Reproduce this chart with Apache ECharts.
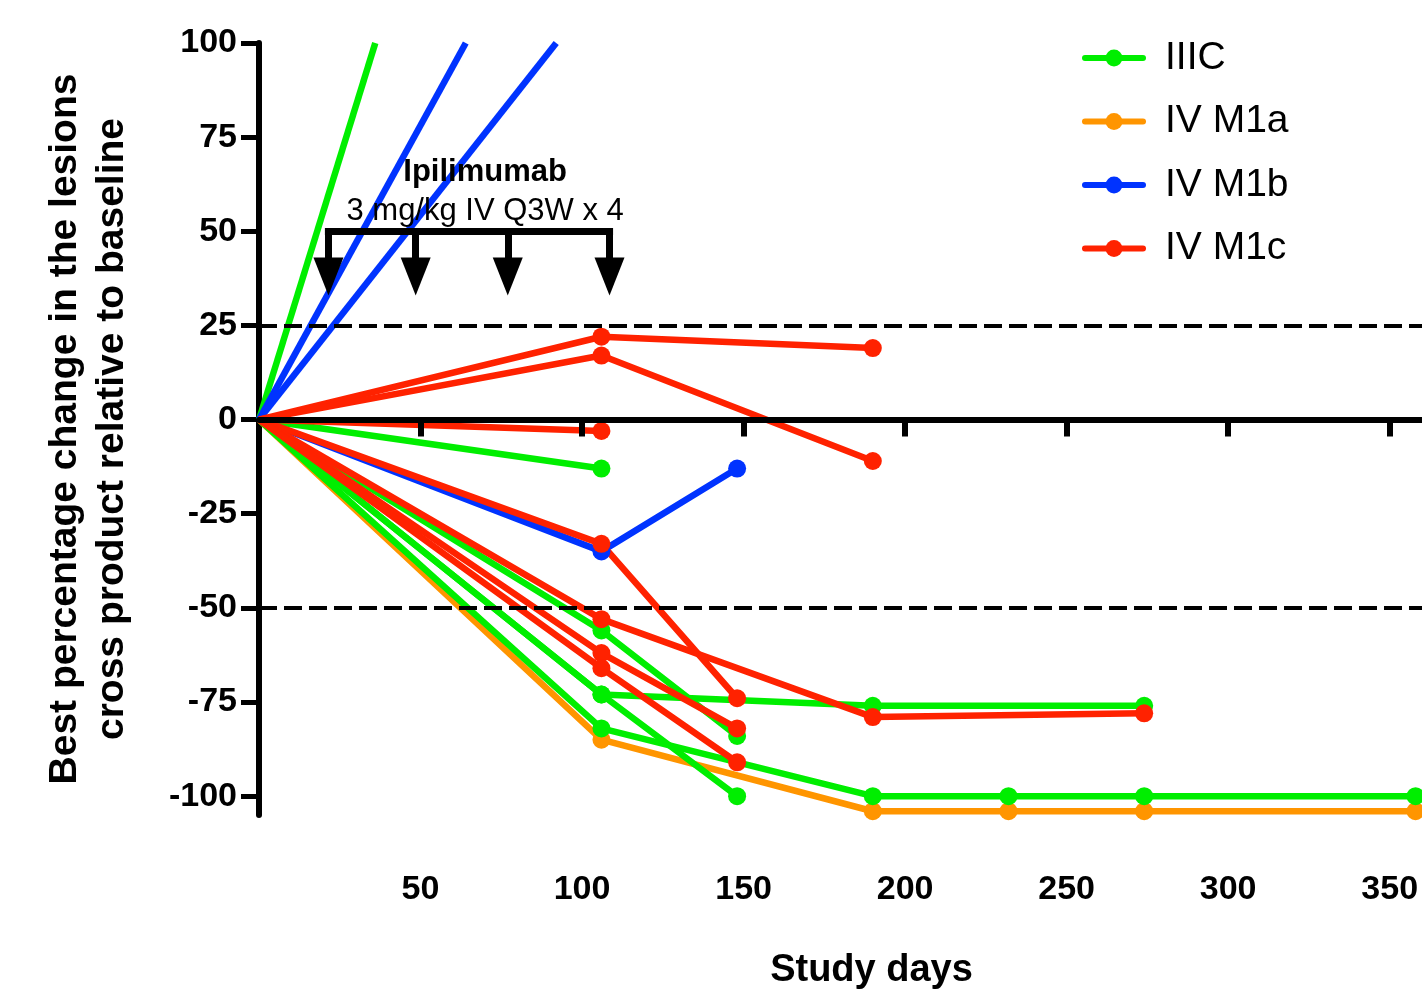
<!DOCTYPE html>
<html>
<head>
<meta charset="utf-8">
<title>Best percentage change vs study days</title>
<script src="https://cdn.jsdelivr.net/npm/echarts@6/dist/echarts.min.js"></script>
<style>
  html, body { margin: 0; padding: 0; background: #fff; }
  #main { width: 1422px; height: 1006px; }
</style>
</head>
<body>
<div id="main"></div>
<script>
// one array per patient: [study day, best % change]
const stageIIIC = [
  [[0, 0], [36, 100]],
  [[0, 0], [106, -13]],
  [[0, 0], [106, -56], [148, -84]],
  [[0, 0], [106, -73], [190, -76], [274, -76]],
  [[0, 0], [106, -73], [148, -100]],
  [[0, 0], [106, -82], [190, -100], [232, -100], [274, -100], [358, -100]]
]
const stageM1a = [
  [[0, 0], [106, -85], [190, -104], [232, -104], [274, -104], [358, -104]]
]
const stageM1b = [
  [[0, 0], [64, 100]],
  [[0, 0], [92, 100]],
  [[0, 0], [106, -35], [148, -13]]
]
const stageM1c = [
  [[0, 0], [106, 22], [190, 19]],
  [[0, 0], [106, 17], [190, -11]],
  [[0, 0], [106, -3]],
  [[0, 0], [106, -33], [148, -74]],
  [[0, 0], [106, -53], [190, -79], [274, -78]],
  [[0, 0], [106, -62], [148, -82]],
  [[0, 0], [106, -66], [148, -91]]
]

const stageNames = ['IIIC', 'IV M1a', 'IV M1b', 'IV M1c']
const xTicks = [50, 100, 150, 200, 250, 300, 350]
const yTicks = [-100, -75, -50, -25, 0, 25, 50, 75, 100]
const thresholds = [25, -50]
const doseDays = [21.5, 48.5, 77, 108.5]

const FONT = "'Liberation Sans', Arial, Helvetica, sans-serif"

const makeSeries = (name, color, patients) => {
  return patients.map(p => ({
    name: name,
    type: 'line',
    symbol: 'circle',
    symbolSize: 18,
    lineStyle: { width: 6.5, color: color },
    itemStyle: { color: color },
    emphasis: { disabled: true },
    // no marker at origin, nor where the line runs off the top
    data: p.map(pt => (pt[0] === 0 || pt[1] >= 100) ? { value: pt, symbol: 'none' } : pt)
  }))
}

/* annotation: dashed thresholds, dosing bracket and arrows */
const arrowLines = doseDays.map(d => [
  { coord: [d, 50], symbol: 'none' },
  { coord: [d, 38], symbol: 'triangle', symbolSize: [30, 38] }
])

const annotation = {
  name: 'annotation',
  type: 'line',
  data: [],
  z: 5,
  silent: true,
  markLine: {
    silent: true,
    animation: false,
    label: { show: false },
    symbol: 'none',
    data: [
      ...thresholds.map(v => ({ yAxis: v, lineStyle: { type: [18, 7], width: 4, color: '#000' } })),
      [
        { coord: [doseDays[0] - 1.1, 50], symbol: 'none' },
        { coord: [doseDays[3] + 1.1, 50], symbol: 'none' }
      ],
      ...arrowLines
    ],
    lineStyle: { color: '#000', width: 7, type: 'solid' },
    itemStyle: { color: '#000' }
  },
  markPoint: {
    silent: true,
    animation: false,
    symbolSize: 0,
    data: [
      { coord: [70, 65.5], label: { formatter: 'Ipilimumab', fontWeight: 'bold' } },
      { coord: [70, 55.3], label: { formatter: '3 mg/kg IV Q3W x 4', fontWeight: 'normal' } }
    ],
    label: { show: true, position: 'inside', color: '#000', fontSize: 31, fontFamily: FONT }
  }
}

const chart = echarts.init(document.getElementById('main'))

chart.setOption({
  animation: false,
  backgroundColor: '#fff',
  textStyle: { fontFamily: FONT },
  grid: { left: 259, right: 0, top: 43, bottom: 191, containLabel: false },
  legend: {
    data: stageNames,
    orient: 'vertical',
    left: 1077,
    top: 33,
    itemWidth: 58,
    itemHeight: 21,
    itemGap: 23.5,
    lineStyle: { width: 6, cap: 'round' },
    textStyle: { fontSize: 39, color: '#000', fontFamily: FONT, lineHeight: 40, padding: [0, 0, 0, 17] }
  },
  xAxis: [
    {
      type: 'value',
      min: 0,
      max: 360,
      position: 'bottom',
      axisLine: { show: false, onZero: false },
      axisTick: { show: false },
      splitLine: { show: false },
      axisLabel: {
        customValues: xTicks,
        margin: 58,
        fontSize: 34,
        fontWeight: 'bold',
        color: '#000',
        fontFamily: FONT
      },
      name: 'Study days',
      nameLocation: 'middle',
      nameGap: 137,
      nameTextStyle: { fontSize: 38, fontWeight: 'bold', color: '#000', fontFamily: FONT, padding: [0, 0, 0, 62] }
    },
    {
      type: 'value',
      min: 0,
      max: 360,
      position: 'bottom',
      z: 4,
      axisLine: { show: true, onZero: true, onZeroAxisIndex: 0, lineStyle: { color: '#000', width: 6 } },
      axisTick: { show: true, customValues: xTicks, length: 17, lineStyle: { color: '#000', width: 6 } },
      axisLabel: { show: false },
      splitLine: { show: false }
    }
  ],
  yAxis: {
    type: 'value',
    min: -105,
    max: 100,
    axisLine: { show: true, onZero: false, lineStyle: { color: '#000', width: 6 } },
    axisTick: { show: true, customValues: yTicks, length: 18, lineStyle: { color: '#000', width: 5 } },
    axisLabel: {
      customValues: yTicks,
      margin: 22,
      fontSize: 34,
      fontWeight: 'bold',
      color: '#000',
      fontFamily: FONT
    },
    splitLine: { show: false },
    name: 'Best percentage change in the lesions\ncross product relative to baseline',
    nameLocation: 'middle',
    nameRotate: 90,
    nameGap: 123,
    nameTextStyle: { fontSize: 39, fontWeight: 'bold', color: '#000', fontFamily: FONT, lineHeight: 47 }
  },
  series: [
    ...makeSeries('IV M1a', '#FF9500', stageM1a),
    ...makeSeries('IIIC', '#00EE00', stageIIIC),
    ...makeSeries('IV M1b', '#0033FF', stageM1b),
    ...makeSeries('IV M1c', '#FF2200', stageM1c),
    annotation
  ]
})

window.onresize = () => {
  chart.resize()
}
</script>
</body>
</html>
